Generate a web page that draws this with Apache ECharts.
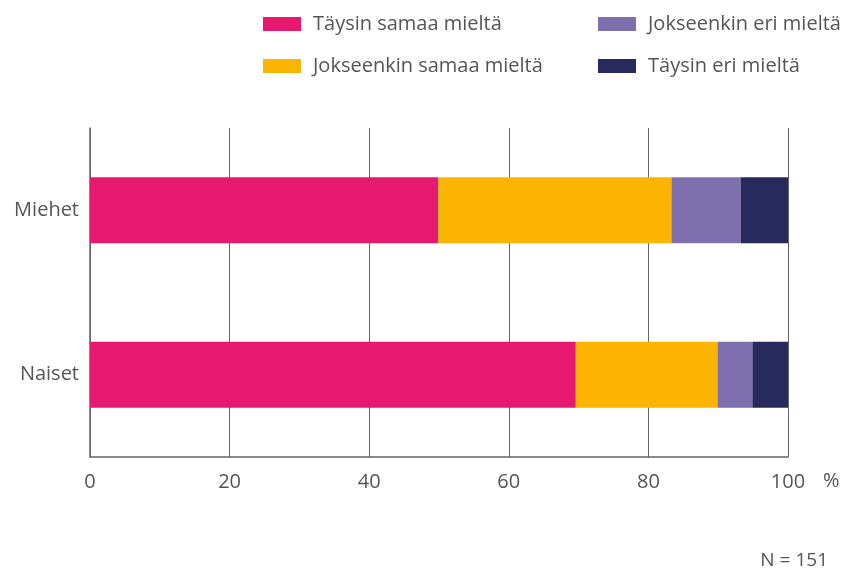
<!DOCTYPE html>
<html>
<head>
<meta charset="utf-8">
<script src="https://cdn.jsdelivr.net/npm/echarts@6/dist/echarts.min.js"></script>
<style>
  html, body { margin: 0; padding: 0; background: #fff; }
  #chart { width: 847px; height: 572px; }
</style>
</head>
<body>
<div id="chart"></div>
<script>
// ryhmät (alhaalta ylös kuten kuvassa)
const groups = ['Naiset', 'Miehet']
const seriesNames = ['Täysin samaa mieltä', 'Jokseenkin samaa mieltä', 'Jokseenkin eri mieltä', 'Täysin eri mieltä']
const taysinSamaa = [69.6, 49.9]
const jokseenkinSamaa = [20.3, 33.4]
const jokseenkinEri = [5.0, 9.9]
const taysinEri = [5.1, 6.8]
const xTicks = [0, 20, 40, 60, 80, 100]

const colors = ['#E5196F', '#FBB500', '#7E6FAF', '#282A5E']
const values = [taysinSamaa, jokseenkinSamaa, jokseenkinEri, taysinEri]
const font = 'Open Sans'

const chart = echarts.init(document.getElementById('chart'))

const legendBase = {
    orient: 'vertical',
    top: 8,
    itemWidth: 38,
    itemHeight: 14,
    itemGap: 20,
    icon: 'rect',
    textStyle: { fontFamily: font, fontSize: 20, color: '#555', lineHeight: 22, padding: [0, 0, 0, 7] },
    selectedMode: false
}

const option = {
    color: colors,
    animation: false,
    textStyle: { fontFamily: font },
    legend: [
        Object.assign({}, legendBase, { left: 258, data: seriesNames.slice(0, 2) }),
        Object.assign({}, legendBase, { left: 593, data: seriesNames.slice(2) })
    ],
    grid: { left: 90, right: 59, top: 128, bottom: 115 },
    xAxis: {
        type: 'value',
        min: 0,
        max: 100,
        interval: 20,
        axisLine: { show: true, lineStyle: { color: '#666', width: 1.5 } },
        axisTick: { show: false },
        splitLine: { show: true, lineStyle: { color: '#666', width: 1 } },
        axisLabel: {
            fontSize: 20, color: '#555', margin: 15, fontFamily: font,
            formatter: v => xTicks.indexOf(v) >= 0 ? String(v) : ''
        }
    },
    yAxis: {
        type: 'category',
        data: groups,
        axisLine: { show: true, lineStyle: { color: '#666', width: 1.5 } },
        axisTick: { show: false },
        axisLabel: { fontSize: 20, color: '#555', margin: 11, fontFamily: font }
    },
    series: seriesNames.map((name, i) => ({
        name: name,
        type: 'bar',
        stack: 'total',
        barWidth: '40%',
        data: values[i],
        itemStyle: { color: colors[i] }
    })),
    graphic: [
        {
            type: 'text',
            left: 823,
            top: 471,
            style: { text: '%', fontSize: 20, fill: '#555', fontFamily: font }
        },
        {
            type: 'text',
            right: 19,
            top: 551,
            style: { text: 'N = 151', fontSize: 19, fill: '#555', fontFamily: font }
        }
    ]
}

chart.setOption(option)
</script>
</body>
</html>
